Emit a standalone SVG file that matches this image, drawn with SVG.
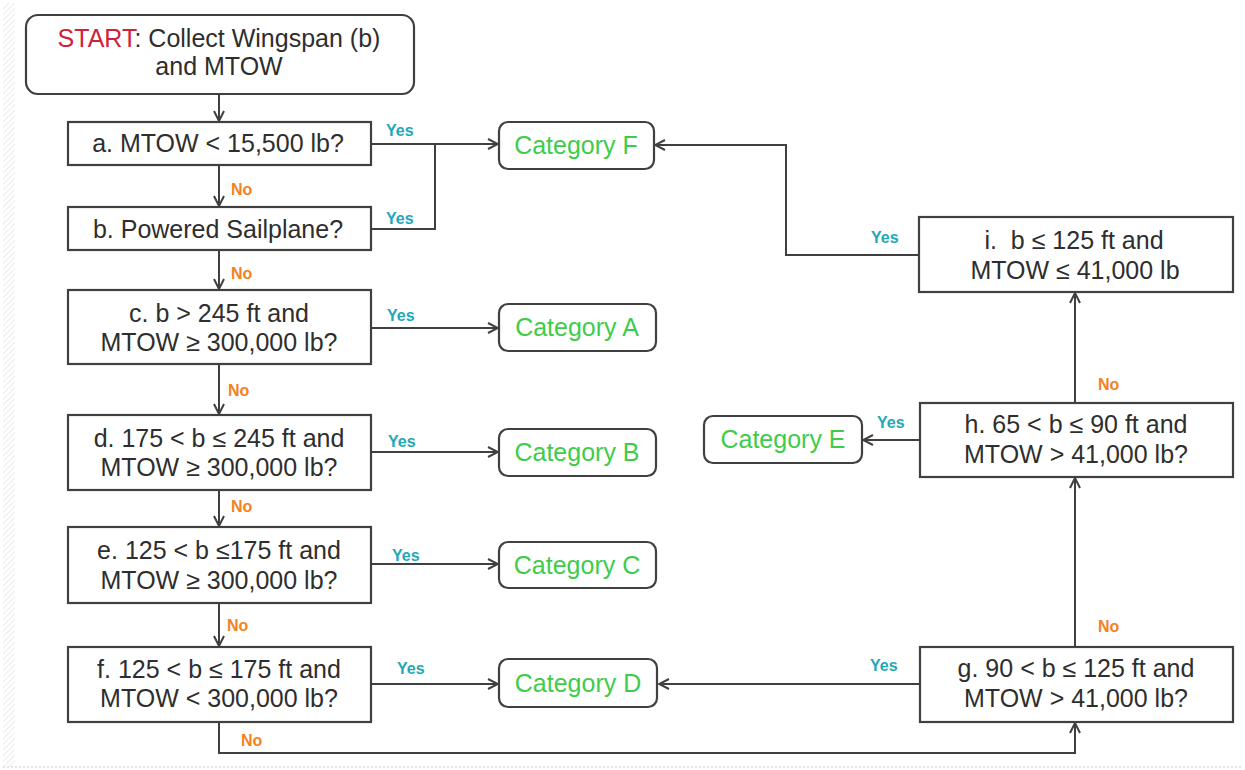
<svg xmlns="http://www.w3.org/2000/svg" width="1245" height="770" viewBox="0 0 1245 770">
<defs>
<style>
.box{fill:#fff;stroke:#404040;stroke-width:2.2}
.t{font-family:"Liberation Sans",Arial,sans-serif;font-size:25px;fill:#2e2e2e;text-anchor:middle}
.cat{font-family:"Liberation Sans",Arial,sans-serif;font-size:25px;fill:#3fcc4a;text-anchor:middle}
.red{fill:#d0213a}
.yes{font-family:"Liberation Sans",Arial,sans-serif;font-size:16px;font-weight:bold;fill:#1fa8b6}
.no{font-family:"Liberation Sans",Arial,sans-serif;font-size:16px;font-weight:bold;fill:#f5821f}
.c{fill:none;stroke:#404040;stroke-width:2}
</style>
<marker id="ah" viewBox="0 0 12 12" refX="11" refY="6" markerWidth="12" markerHeight="12" markerUnits="userSpaceOnUse" orient="auto">
<path d="M1,1 L11,6 L1,11" fill="none" stroke="#404040" stroke-width="2"/>
</marker>
<pattern id="hatch" width="4" height="4" patternUnits="userSpaceOnUse" patternTransform="rotate(45)">
<line x1="0" y1="0" x2="0" y2="4" stroke="#e4e4e4" stroke-width="1.5"/>
</pattern>
</defs>
<rect x="0" y="0" width="1245" height="770" fill="#fff"/>
<rect x="3" y="3" width="12" height="764" fill="url(#hatch)"/>
<line x1="3" y1="767" x2="1242" y2="767" stroke="#e4e4e4" stroke-width="2" stroke-dasharray="2 2"/>

<g id="connectors">
<path class="c" d="M219,94 V121" marker-end="url(#ah)"/>
<path class="c" d="M219,165 V206" marker-end="url(#ah)"/>
<path class="c" d="M371,144 H498" marker-end="url(#ah)"/>
<path class="c" d="M371,229 H435 V144"/>
<path class="c" d="M219,250 V289" marker-end="url(#ah)"/>
<path class="c" d="M371,328 H498" marker-end="url(#ah)"/>
<path class="c" d="M219,364 V414" marker-end="url(#ah)"/>
<path class="c" d="M371,452 H498" marker-end="url(#ah)"/>
<path class="c" d="M219,490 V526" marker-end="url(#ah)"/>
<path class="c" d="M371,564 H498" marker-end="url(#ah)"/>
<path class="c" d="M219,603 V646" marker-end="url(#ah)"/>
<path class="c" d="M371,684 H498" marker-end="url(#ah)"/>
<path class="c" d="M219,722 V753 H1075 V723" marker-end="url(#ah)"/>
<path class="c" d="M920,684 H659" marker-end="url(#ah)"/>
<path class="c" d="M1075,647 V478" marker-end="url(#ah)"/>
<path class="c" d="M920,440 H863" marker-end="url(#ah)"/>
<path class="c" d="M1075,403 V293" marker-end="url(#ah)"/>
<path class="c" d="M919,255 H786 V145 H655" marker-end="url(#ah)"/>
<text class="yes" x="386" y="136">Yes</text>
<text class="yes" x="386" y="224">Yes</text>
<text class="no" x="231" y="195">No</text>
<text class="no" x="231" y="279">No</text>
<text class="yes" x="387" y="321">Yes</text>
<text class="no" x="228" y="396">No</text>
<text class="yes" x="388" y="447">Yes</text>
<text class="no" x="231" y="512">No</text>
<text class="yes" x="392" y="561">Yes</text>
<text class="no" x="227" y="631">No</text>
<text class="yes" x="397" y="674">Yes</text>
<text class="no" x="241" y="746">No</text>
<text class="yes" x="870" y="671">Yes</text>
<text class="no" x="1098" y="632">No</text>
<text class="yes" x="877" y="428">Yes</text>
<text class="no" x="1098" y="390">No</text>
<text class="yes" x="871" y="243">Yes</text>
</g>

<g id="start">
<rect class="box" x="26" y="15" width="388" height="79" rx="12"/>
<text class="t" x="219" y="47"><tspan class="red">START</tspan>: Collect Wingspan (b)</text>
<text class="t" x="219" y="75">and MTOW</text>
</g>
<g id="a">
<rect class="box" x="68" y="122" width="303" height="43"/>
<text class="t" x="218" y="152">a. MTOW &lt; 15,500 lb?</text>
</g>
<g id="b">
<rect class="box" x="68" y="207" width="303" height="43"/>
<text class="t" x="218" y="238">b. Powered Sailplane?</text>
</g>
<g id="c">
<rect class="box" x="68" y="290" width="303" height="74"/>
<text class="t" x="219" y="322">c. b &gt; 245 ft and</text>
<text class="t" x="219" y="351">MTOW ≥ 300,000 lb?</text>
</g>
<g id="d">
<rect class="box" x="68" y="415" width="303" height="75"/>
<text class="t" x="219" y="447">d. 175 &lt; b ≤ 245 ft and</text>
<text class="t" x="219" y="476">MTOW ≥ 300,000 lb?</text>
</g>
<g id="e">
<rect class="box" x="68" y="527" width="303" height="76"/>
<text class="t" x="219" y="559">e. 125 &lt; b ≤175 ft and</text>
<text class="t" x="219" y="589">MTOW ≥ 300,000 lb?</text>
</g>
<g id="f">
<rect class="box" x="68" y="647" width="303" height="75"/>
<text class="t" x="219" y="678">f. 125 &lt; b ≤ 175 ft and</text>
<text class="t" x="219" y="707">MTOW &lt; 300,000 lb?</text>
</g>
<g id="catF">
<rect class="box" x="499" y="122" width="155" height="47" rx="9"/>
<text class="cat" x="576" y="154">Category F</text>
</g>
<g id="catA">
<rect class="box" x="499" y="304" width="157" height="47" rx="9"/>
<text class="cat" x="577" y="336">Category A</text>
</g>
<g id="catB">
<rect class="box" x="499" y="429" width="157" height="47" rx="9"/>
<text class="cat" x="577" y="461">Category B</text>
</g>
<g id="catC">
<rect class="box" x="499" y="542" width="157" height="46" rx="9"/>
<text class="cat" x="577" y="574">Category C</text>
</g>
<g id="catD">
<rect class="box" x="499" y="659" width="158" height="48" rx="9"/>
<text class="cat" x="578" y="692">Category D</text>
</g>
<g id="catE">
<rect class="box" x="704" y="416" width="158" height="47" rx="9"/>
<text class="cat" x="783" y="448">Category E</text>
</g>
<g id="i">
<rect class="box" x="919" y="217" width="314" height="75"/>
<text class="t" x="1074" y="249" xml:space="preserve">i.  b ≤ 125 ft and</text>
<text class="t" x="1075" y="279">MTOW ≤ 41,000 lb</text>
</g>
<g id="h">
<rect class="box" x="920" y="403" width="313" height="74"/>
<text class="t" x="1076" y="433">h. 65 &lt; b ≤ 90 ft and</text>
<text class="t" x="1076" y="463">MTOW &gt; 41,000 lb?</text>
</g>
<g id="g">
<rect class="box" x="920" y="647" width="313" height="75"/>
<text class="t" x="1076" y="677">g. 90 &lt; b ≤ 125 ft and</text>
<text class="t" x="1076" y="707">MTOW &gt; 41,000 lb?</text>
</g>
</svg>
